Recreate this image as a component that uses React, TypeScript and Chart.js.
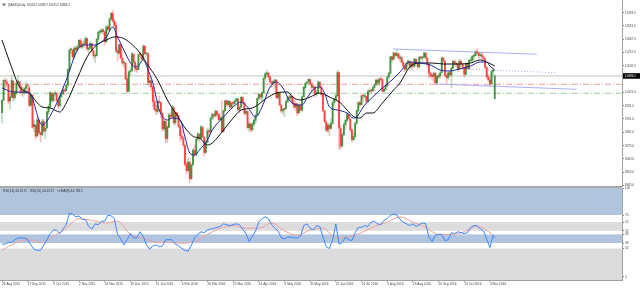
import React, { useEffect, useRef } from 'react';
import { Chart, registerables } from 'chart.js';
Chart.register(...registerables);

// ---------------- DATA ----------------
const titleText = '[DAX30],Daily  10023.2 10398.7 10023.2 10386.2';
const rsiLegendText = 'RSI(14) 44.6172   RSI(14) 44.6172   >>MA(9) 44.7815';

const opens = [
  9800,10000,10310,10290,10250,9990,10050,10300,10040,10110,
  10280,10290,10210,10120,10130,10190,10230,10200,9920,10080,
  9580,9600,9430,9680,9480,9450,9660,9510,9560,9810,
  9900,10110,9990,10100,10110,9990,9910,10060,10100,10160,
  10150,10240,10490,10800,10800,10690,10830,10800,10850,10950,
  10850,10890,10890,10980,10810,10830,10900,10780,10700,10710,
  10970,11080,11090,11120,11090,10930,11170,11120,11290,11380,
  11260,11190,10790,10750,10880,10670,10590,10590,10340,10140,
  10450,10470,10730,10600,10500,10490,10730,10720,10650,10860,
  10740,10740,10280,10310,10210,9980,9850,9820,9980,9960,
  9790,9540,9660,9390,9570,9760,9740,9880,9640,9800,
  9750,9580,9430,9390,9280,8980,8880,9010,8750,8970,
  9200,9130,9380,9460,9390,9570,9410,9170,9330,9510,
  9490,9720,9770,9750,9820,9780,9690,9720,9500,9830,
  9990,9930,9980,9890,9950,9950,9990,10020,9850,9890,
  10040,9960,9790,9820,9560,9620,9530,9620,9680,9760,
  10030,10090,10050,10120,10350,10420,10430,10370,10290,10260,
  10300,10320,10040,10120,9920,9830,9850,9870,9980,10040,
  10030,10060,9950,9890,9940,9800,9910,9840,10060,10200,
  10270,10290,10330,10260,10200,10210,10100,10120,10290,10210,
  10090,9830,9650,9520,9600,9550,9630,9960,10010,10070,
  10440,9550,9270,9450,9610,9680,9770,9700,9530,9370,
  9420,9630,9830,9960,9930,10070,10060,10060,9980,10140,
  10150,10150,10200,10250,10320,10270,10340,10330,10140,10170,
  10230,10370,10430,10690,10650,10750,10710,10740,10670,10680,
  10600,10540,10490,10590,10620,10530,10590,10540,10650,10590,
  10530,10680,10670,10690,10750,10670,10570,10430,10380,10380,
  10430,10280,10370,10390,10440,10670,10620,10390,10360,10440,
  10400,10510,10620,10580,10570,10490,10620,10570,10520,10410,
  10580,10500,10630,10640,10700,10710,10760,10750,10710,10720,
  10690,10660,10520,10370,10320,10260,10460,10023.2,
];
const highs = [
  10010,10330,10350,10330,10260,10100,10390,10310,10150,10290,
  10380,10300,10230,10200,10210,10290,10260,10210,10120,10090,
  9680,9620,9740,9700,9500,9700,9700,9600,9830,9930,
  10140,10130,10120,10150,10120,10000,10080,10130,10200,10180,
  10260,10500,10830,10830,10810,10850,10860,10880,10970,10980,
  10930,10950,11010,10990,10850,10930,10910,10800,10740,10990,
  11100,11120,11140,11140,11100,11180,11190,11310,11400,11430,
  11290,11230,10830,10900,10890,10730,10640,10600,10380,10470,
  10520,10760,10740,10620,10560,10740,10760,10730,10880,10870,
  10760,10750,10380,10320,10230,10080,9920,10000,10070,9970,
  9800,9700,9680,9600,9790,9800,9920,9900,9820,9810,
  9770,9600,9520,9420,9300,9020,9080,9030,8990,9230,
  9290,9390,9490,9470,9600,9580,9420,9360,9560,9540,
  9730,9800,9790,9850,9840,9790,9760,9990,9840,10000,
  10000,10000,9990,9970,9980,10000,10040,10030,9900,10060,
  10060,9970,9850,9830,9650,9640,9650,9720,9780,10040,
  10100,10110,10130,10360,10440,10480,10440,10380,10310,10320,
  10340,10330,10140,10130,9940,9870,9880,10000,10060,10080,
  10110,10070,10000,9970,9950,9930,9960,10070,10220,10280,
  10300,10340,10340,10270,10240,10230,10160,10310,10300,10220,
  10100,9840,9680,9640,9620,9700,9990,10030,10100,10480,
  10460,9600,9480,9640,9700,9800,9790,9710,9540,9480,
  9650,9850,9980,9990,10090,10090,10100,10070,10160,10180,
  10170,10220,10260,10340,10330,10350,10370,10340,10190,10240,
  10380,10450,10700,10700,10770,10760,10800,10750,10720,10700,
  10620,10560,10610,10640,10630,10610,10600,10670,10660,10610,
  10700,10700,10700,10760,10760,10680,10580,10450,10420,10450,
  10440,10400,10420,10460,10690,10690,10630,10420,10450,10480,
  10530,10640,10640,10610,10600,10650,10640,10590,10530,10600,
  10590,10650,10680,10710,10730,10800,10820,10760,10750,10760,
  10710,10670,10540,10410,10370,10470,10500,10398.7,
];
const lows = [
  9640,9990,10190,10220,9940,9860,10030,9990,10010,10080,
  10250,10110,10080,10060,10090,10170,10140,9900,9900,9550,
  9500,9380,9420,9460,9330,9440,9480,9390,9550,9770,
  9880,9960,9980,10070,9970,9880,9890,10040,10090,10090,
  10140,10200,10480,10740,10650,10660,10740,10780,10830,10830,
  10820,10840,10870,10790,10740,10810,10760,10660,10600,10700,
  10940,11040,11060,11050,10880,10920,11100,11110,11270,11240,
  11150,10760,10620,10730,10650,10560,10520,10320,10120,10130,
  10400,10460,10560,10460,10440,10480,10700,10620,10640,10730,
  10700,10240,10220,10150,9900,9830,9770,9790,9940,9720,
  9510,9520,9320,9330,9560,9700,9720,9620,9600,9700,
  9560,9340,9380,9240,8950,8830,8860,8690,8740,8960,
  9100,9110,9360,9330,9380,9400,9110,9150,9320,9420,
  9470,9690,9700,9730,9740,9670,9680,9480,9490,9820,
  9900,9900,9860,9870,9900,9920,9970,9830,9790,9880,
  9940,9760,9770,9540,9500,9490,9500,9600,9630,9750,
  10000,10010,9990,10110,10320,10380,10330,10270,10200,10230,
  10180,10020,10020,9910,9800,9780,9740,9860,9960,9990,
  9990,9930,9870,9840,9750,9790,9830,9830,10050,10180,
  10240,10270,10240,10140,10120,10050,10070,10110,10190,10060,
  9810,9640,9500,9480,9430,9540,9620,9920,9980,10060,
  9220,9220,9260,9440,9530,9650,9680,9500,9330,9360,
  9400,9620,9820,9900,9920,10000,10030,9950,9970,10090,
  10090,10130,10150,10230,10240,10230,10310,10130,10100,10150,
  10210,10350,10420,10610,10640,10680,10700,10650,10620,10590,
  10500,10460,10480,10570,10510,10490,10510,10530,10570,10490,
  10520,10650,10600,10660,10650,10540,10350,10370,10320,10280,
  10250,10260,10340,10350,10430,10600,10380,10260,10330,10380,
  10200,10500,10550,10530,10450,10480,10560,10490,10360,10400,
  10480,10490,10600,10610,10630,10700,10730,10660,10680,10640,
  10630,10500,10350,10300,10230,10250,10400,10023.2,
];
const closes = [
  9997,10315,10298,10259,9981,10048,10318,10038,10108,10271,
  10303,10210,10123,10131,10188,10227,10229,9916,10092,9570,
  9612,9428,9688,9484,9451,9660,9509,9553,9814,9902,
  10118,9993,10096,10118,9994,9915,10064,10104,10164,10147,
  10238,10491,10795,10801,10692,10831,10800,10850,10951,10845,
  10887,10887,10988,10815,10832,10907,10782,10708,10713,10971,
  11085,11092,11119,11092,10933,11169,11125,11293,11382,11261,
  11190,10789,10752,10886,10673,10592,10598,10340,10139,10451,
  10469,10738,10608,10497,10488,10727,10727,10653,10860,10743,
  10743,10283,10310,10214,9979,9849,9825,9985,9960,9794,
  9545,9664,9391,9574,9764,9736,9880,9639,9798,9757,
  9581,9434,9393,9286,8979,8879,9017,8752,8967,9206,
  9135,9378,9463,9388,9574,9416,9167,9331,9513,9495,
  9717,9776,9751,9824,9778,9692,9723,9498,9831,9990,
  9933,9984,9892,9950,9948,9990,10022,9851,9888,10046,
  9966,9794,9822,9563,9624,9530,9622,9682,9761,10027,
  10093,10051,10120,10350,10421,10435,10373,10294,10260,10299,
  10321,10039,10123,9926,9829,9851,9870,9980,10045,10035,
  10062,9952,9890,9943,9795,9916,9842,10057,10205,10272,
  10287,10333,10263,10205,10208,10103,10121,10288,10217,10088,
  9834,9657,9519,9606,9550,9631,9962,10015,10071,10440,
  9557,9268,9448,9612,9680,9776,9709,9532,9373,9418,
  9629,9833,9964,9930,10068,10066,10063,9981,10142,10156,
  10147,10198,10247,10319,10275,10337,10330,10144,10170,10228,
  10367,10432,10692,10650,10753,10713,10740,10676,10679,10603,
  10544,10494,10592,10623,10529,10588,10545,10657,10593,10534,
  10684,10672,10688,10752,10675,10573,10432,10386,10379,10431,
  10276,10374,10393,10436,10674,10626,10394,10362,10438,10405,
  10511,10619,10585,10568,10490,10624,10577,10523,10414,10580,
  10504,10631,10645,10701,10711,10761,10757,10709,10717,10696,
  10665,10526,10370,10325,10259,10456,10482,10386.2,
];

// Moving averages (bar index, price)
const maFastBars = [0,7,17,25,32,40,47,52,58,61,65,69,72,75,78,81,84,88,91,94,98,103,106,111,114,117,120,123,128,131,138,144,149,153,158,162,167,171,175,179,184,187,190,195,198,201,204,209,215,219,221,225,231,237,243,248,254,260,267,273,279,285,292,298,302,304,307];
const maFastValues = [10194,10130,10114,9605,9844,10321,10799,10879,10879,10910,11006,11165,11006,10847,10688,10560,10528,10640,10481,10274,9844,9685,9716,9685,9414,9159,9127,9207,9366,9525,9732,9892,9971,9892,9732,9892,10210,10290,10194,10003,9923,9923,10035,10194,10210,10114,9892,9844,9796,9716,9732,9892,10051,10194,10321,10449,10608,10592,10560,10481,10465,10497,10544,10608,10608,10544,10481];
const maSlowBars = [0,5,11,17,19,25,30,36,40,47,53,59,65,70,75,80,86,90,97,103,109,115,120,123,128,131,138,144,149,156,165,171,178,181,186,192,198,204,211,215,219,223,227,231,237,244,248,254,260,268,275,285,292,298,302,307];
const maSlowValues = [10958,10592,10210,10114,10051,9892,9876,9812,9955,10353,10688,10879,10958,11006,10990,10910,10751,10592,10321,10003,9764,9525,9414,9398,9287,9318,9525,9716,9844,9876,10035,10114,10130,10051,10003,10051,10114,10051,9955,9844,9740,9716,9796,9796,9955,10162,10274,10528,10592,10592,10576,10576,10592,10640,10608,10544];

// RSI(14), one reading every second bar, last reading on the last bar
const RSI_STEP = 2;
const rsiValues = [
  37,37,39,39,42,44,44,44,42,36, 31,30,30,36,42,49,53,53,49,54,
  59,72,71,68,69,65,65,57,54,60, 59,63,63,70,69,66,48,43,36,42,
  49,44,44,51,46,36,31,35,36,34, 35,42,42,42,37,35,32,30,29,36,
  44,48,51,50,53,54,55,56,57,60, 59,58,59,60,59,54,49,40,46,52,
  62,66,68,66,59,55,52,44,43,45, 45,44,44,46,58,60,55,53,58,57,
  45,34,32,42,60,37,39,45,42,41, 50,56,56,58,57,62,63,60,59,64,
  66,70,71,70,65,62,60,58,60,57, 59,61,60,45,40,47,48,48,41,42,
  50,49,51,50,49,50,56,58,58,54, 52,43,33,47,44.6,
];
const rsiMaBars = [0,8,16,24,32,40,48,56,64,72,80,88,96,104,112,120,128,136,144,152,160,168,176,184,192,200,208,216,224,232,240,248,256,264,272,280,288,296,304,307];
const rsiMaValues = [30,38,42,39,46,55,66,64,61,63,48,44,39,39,38,40,48,55,58,55,55,61,52,47,53,55,44,45,50,57,62,68,62,56,48,48,51,57,50,44.8];

const priceTicks = [11393, 11183, 10967, 10757, 10547, 10386.2, 10121, 9911, 9701, 9491, 9275, 9065, 8855, 8645];
const rsiTicks = [100, 70, 62, 52, 48, 38, 32, 0];
const rsiBandEdges = [100.7, 70, 62, 52, 48, 38, 32, -3.75];
const rsiDotLevels = [70, 52, 38];
const dateTickBars = [0,16,32,48,64,80,96,112,128,144,160,176,192,208,224,240,256,272,288,304];
const dateTickLabels = ['26 Aug 2015','17 Sep 2015','9 Oct 2015','2 Nov 2015','24 Nov 2015','16 Dec 2015','11 Jan 2016','4 Feb 2016','26 Feb 2016','21 Mar 2016','14 Apr 2016','6 May 2016','31 May 2016','22 Jun 2016','14 Jul 2016','5 Aug 2016','29 Aug 2016','20 Sep 2016','13 Oct 2016','4 Nov 2016'];

const bidPrice = 10386.2;
const redLevel = 10253;
const greenLevel = 10110;
const channelTopBars = [243.6, 333.1];
const channelTopPrices = [10815, 10731];
const channelLowBars = [269.8, 358];
const channelLowPrices = [10258, 10173];
const dottedBars = [291.6, 345.8];
const dottedPrices = [10492, 10438];

// ---------------- VIEW ----------------
const X_MIN = -1.25, X_MAX = 386.3;
const P_MIN = 8634, P_MAX = 11595;
const R_MIN = -3.75, R_MAX = 100.7;
const FONT = 'Liberation Sans';
const BAND_COLORS = ['#b0c4de', '#ffffff', '#dcdcdc', '#ffffff', '#b0c4de', '#ffffff', '#dcdcdc'];

const zip = (xs: number[], ys: number[]) => xs.map((x, i) => ({ x, y: ys[i] }));
const hline = (p: number) => [{ x: X_MIN, y: p }, { x: X_MAX, y: p }];
const isUp = (i: number) => closes[i] >= opens[i];

const mainPlugin = {
  id: 'mainDecor',
  afterDraw(chart: any) {
    const ctx = chart.ctx;
    ctx.save();
    ctx.fillStyle = '#777';
    ctx.beginPath();
    ctx.moveTo(2, 3.5); ctx.lineTo(6, 3.5); ctx.lineTo(4, 6.5); ctx.closePath();
    ctx.fill();
    ctx.fillStyle = '#333';
    ctx.font = `2.8px "${FONT}"`;
    ctx.textBaseline = 'middle';
    ctx.fillText(titleText, 8, 5);
    ctx.restore();
  },
};

const rsiPlugin = {
  id: 'rsiDecor',
  beforeDraw(chart: any) {
    const { ctx, chartArea: a, scales } = chart;
    const y = scales.y;
    ctx.save();
    for (let i = 0; i < rsiBandEdges.length - 1; i++) {
      const y0 = y.getPixelForValue(rsiBandEdges[i]);
      const y1 = y.getPixelForValue(rsiBandEdges[i + 1]);
      ctx.fillStyle = BAND_COLORS[i];
      ctx.fillRect(a.left, y0, a.right - a.left, y1 - y0);
    }
    ctx.strokeStyle = '#ffffff';
    ctx.lineWidth = 1;
    ctx.setLineDash([1, 1]);
    rsiDotLevels.forEach((lv) => {
      const py = Math.round(y.getPixelForValue(lv)) + 0.5;
      ctx.beginPath(); ctx.moveTo(a.left, py); ctx.lineTo(a.right, py); ctx.stroke();
    });
    ctx.setLineDash([]);
    ctx.fillStyle = '#a8a8a8';
    ctx.fillRect(0, a.top - 2, a.right, 2);
    ctx.restore();
  },
  afterDraw(chart: any) {
    const { ctx, chartArea: a } = chart;
    ctx.save();
    ctx.fillStyle = '#333';
    ctx.font = `3.3px "${FONT}"`;
    ctx.textBaseline = 'middle';
    ctx.fillText(rsiLegendText, 3, a.top + 2.8);
    ctx.restore();
  },
};

function mainConfig(): any {
  return {
    type: 'bar',
    data: {
      datasets: [
        { type: 'line', data: hline(bidPrice), borderColor: '#c4c4c4', borderWidth: 1, pointRadius: 0, order: 10 },
        { type: 'line', data: hline(redLevel), borderColor: 'rgba(245,140,140,0.85)', borderDash: [6, 2, 1, 2], borderWidth: 1, pointRadius: 0, order: 10 },
        { type: 'line', data: hline(greenLevel), borderColor: 'rgba(140,200,140,0.85)', borderDash: [6, 2, 1, 2], borderWidth: 1, pointRadius: 0, order: 10 },
        { type: 'line', data: zip(channelTopBars, channelTopPrices), borderColor: '#a9aef5', borderWidth: 1, pointRadius: 0, order: 9 },
        { type: 'line', data: zip(channelLowBars, channelLowPrices), borderColor: '#a9aef5', borderWidth: 1, pointRadius: 0, order: 9 },
        { type: 'line', data: zip(dottedBars, dottedPrices), borderColor: '#a9aef5', borderDash: [1, 2], borderWidth: 1, pointRadius: 0, order: 9 },
        {
          type: 'bar', data: closes.map((_, i) => ({ x: i, y: [lows[i], highs[i]] })),
          backgroundColor: (c: any) => (isUp(c.dataIndex) ? 'rgba(60,150,60,0.35)' : 'rgba(255,60,60,0.35)'),
          barThickness: 1, grouped: false, borderWidth: 0, order: 6,
        },
        {
          type: 'bar', data: closes.map((_, i) => ({ x: i, y: [opens[i], closes[i]] })),
          backgroundColor: (c: any) => (isUp(c.dataIndex) ? 'rgba(0,110,0,0.65)' : 'rgba(255,0,0,0.65)'),
          barThickness: 1.2, grouped: false, borderWidth: 0, minBarLength: 1, order: 5,
        },
        { type: 'line', data: zip(maSlowBars, maSlowValues), borderColor: '#111111', borderWidth: 1, pointRadius: 0, tension: 0.4, cubicInterpolationMode: 'monotone', order: 2 },
        { type: 'line', data: zip(maFastBars, maFastValues), borderColor: '#23239c', borderWidth: 1, pointRadius: 0, tension: 0.4, cubicInterpolationMode: 'monotone', order: 1 },
      ],
    },
    options: {
      responsive: false, animation: false, devicePixelRatio: 1, events: [],
      layout: { padding: { top: 0, left: 0, right: 0, bottom: 6 } },
      plugins: { legend: { display: false }, tooltip: { enabled: false } },
      scales: {
        x: { type: 'linear', min: X_MIN, max: X_MAX, display: false, offset: false, grid: { offset: false } },
        y: {
          type: 'linear', position: 'right', min: P_MIN, max: P_MAX,
          afterBuildTicks: (s: any) => { s.ticks = priceTicks.map((v) => ({ value: v })); },
          afterFit: (s: any) => { s.width = 18; s.paddingTop = 0; s.paddingBottom = 0; },
          ticks: {
            autoSkip: false, padding: 1,
            font: { family: FONT, size: 3 },
            color: (c: any) => (c.tick && c.tick.value === bidPrice ? '#ffffff' : '#444444'),
            showLabelBackdrop: (c: any) => !!(c.tick && c.tick.value === bidPrice),
            backdropColor: '#000000',
            backdropPadding: { top: 1, bottom: 1, left: 2, right: 5 },
            callback: (v: any) => Number(v).toFixed(1),
          },
          grid: { drawOnChartArea: false, tickLength: 2, color: '#888888' },
          border: { display: true, color: '#a0a0a0' },
        },
      },
    },
    plugins: [mainPlugin],
  };
}

function rsiConfig(): any {
  return {
    type: 'line',
    data: {
      datasets: [
        { data: rsiValues.map((v, i) => ({ x: Math.min(i * RSI_STEP, closes.length - 1), y: v })), borderColor: '#3a86ff', borderWidth: 1, pointRadius: 0, order: 1 },
        { data: zip(rsiMaBars, rsiMaValues), borderColor: '#f2a0a0', borderWidth: 1, pointRadius: 0, tension: 0.4, cubicInterpolationMode: 'monotone', order: 2 },
      ],
    },
    options: {
      responsive: false, animation: false, devicePixelRatio: 1, events: [],
      layout: { padding: { top: 8, left: 0, right: 0, bottom: 0 } },
      plugins: { legend: { display: false }, tooltip: { enabled: false } },
      scales: {
        x: {
          type: 'linear', min: X_MIN, max: X_MAX, position: 'bottom', offset: false,
          afterBuildTicks: (s: any) => { s.ticks = dateTickBars.map((v) => ({ value: v })); },
          afterFit: (s: any) => { s.height = 8; s.paddingLeft = 0; s.paddingRight = 0; },
          ticks: {
            autoSkip: false, maxRotation: 0, minRotation: 0, align: 'start', padding: 0,
            font: { family: FONT, size: 3.2 }, color: '#444444',
            callback: (_v: any, i: number) => dateTickLabels[i],
          },
          grid: { drawOnChartArea: false, tickLength: 2, color: '#999999' },
          border: { display: true, color: '#a0a0a0' },
        },
        y: {
          type: 'linear', position: 'right', min: R_MIN, max: R_MAX,
          afterBuildTicks: (s: any) => { s.ticks = rsiTicks.map((v) => ({ value: v })); },
          afterFit: (s: any) => { s.width = 18; s.paddingTop = 0; s.paddingBottom = 0; },
          ticks: { autoSkip: false, padding: 1, font: { family: FONT, size: 3 }, color: '#444444', callback: (v: any) => String(v) },
          grid: { drawOnChartArea: false, tickLength: 2, color: '#888888' },
          border: { display: true, color: '#a0a0a0' },
        },
      },
    },
    plugins: [rsiPlugin],
  };
}

export default function App() {
  const mainRef = useRef<HTMLCanvasElement>(null);
  const rsiRef = useRef<HTMLCanvasElement>(null);
  useEffect(() => {
    const main = new Chart(mainRef.current as HTMLCanvasElement, mainConfig());
    const rsi = new Chart(rsiRef.current as HTMLCanvasElement, rsiConfig());
    return () => { main.destroy(); rsi.destroy(); };
  }, []);
  return (
    <div style={{ position: 'fixed', left: 0, top: 0, width: 640, height: 288, background: '#ffffff', overflow: 'hidden' }}>
      <canvas ref={mainRef} width={640} height={192} style={{ position: 'absolute', left: 0, top: 0, width: 640, height: 192 }} />
      <canvas ref={rsiRef} width={640} height={108} style={{ position: 'absolute', left: 0, top: 180, width: 640, height: 108 }} />
    </div>
  );
}
